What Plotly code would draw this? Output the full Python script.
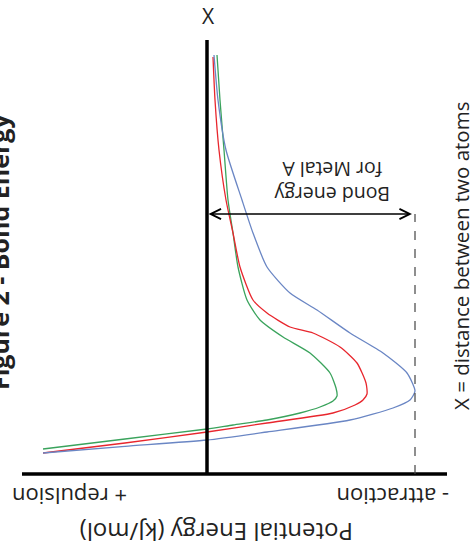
import plotly.graph_objects as go

# potential energy (kJ/mol, negative = attraction) vs distance between atoms
# lower branch (repulsive wall) -> minimum -> tail toward large distance
energia_azul = [82, 41, 0, -30, -71.5, -93, -101.5, -104, -100, -88, -71.5,
                -55, -41.5, -30, -23, -17.5, -9.5, -5.5, -3.5]
dist_azul = [0.525, 0.69, 0.85, 1.05, 1.35, 1.65, 1.85, 2.075, 2.525, 3.025,
             3.525, 4.1, 4.525, 5.175, 6.025, 6.85, 8.1, 9.35, 10.475]

energia_verm = [82, 41, 0, -30, -63, -74, -78, -80, -79.5, -75, -66.5, -53,
                -41.5, -30, -23, -16.5, -13, -9.5, -6, -4, -3]
dist_verm = [0.525, 0.775, 1.05, 1.275, 1.525, 1.725, 1.85, 2.0, 2.275,
             2.775, 3.175, 3.525, 3.675, 4.025, 4.35, 5.175, 6.025, 6.85,
             8.1, 9.35, 10.425]

energia_verde = [82, 41, 0, -13, -30, -46.5, -56.5, -63, -65, -64.5, -61.5,
                 -51.5, -38, -26.5, -20, -15.5, -13, -10.5, -8.5, -6.5, -5]
dist_verde = [0.625, 0.875, 1.125, 1.225, 1.35, 1.525, 1.675, 1.825, 1.95,
              2.15, 2.525, 3.025, 3.425, 3.85, 4.35, 5.175, 6.025, 6.85, 8.1,
              9.35, 10.475]

ENERGIA_LIGACAO = -104  # bond energy for Metal A (blue well depth)
DIST_SETA = 6.5

FONTE = "'Open Sans', sans-serif"
COR_TEXTO = "#222222"

fig = go.Figure()

series = [
    (energia_verde, dist_verde, "#3aa35c"),
    (energia_verm, dist_verm, "#e8262d"),
    (energia_azul, dist_azul, "#6a86c4"),
]
for ens, ds, cor in series:
    fig.add_trace(
        go.Scatter(
            x=ens,
            y=ds,
            mode="lines",
            line=dict(color=cor, width=1.3, shape="spline", smoothing=0.6),
            hoverinfo="skip",
        )
    )

# eixos desenhados a mao
fig.add_shape(type="line", x0=0, x1=0, y0=0, y1=10.85,
              line=dict(color="black", width=3.5))
fig.add_shape(type="line", x0=92.5, x1=-120, y0=0, y1=0,
              line=dict(color="black", width=3.5))
fig.add_shape(type="line", x0=ENERGIA_LIGACAO, x1=ENERGIA_LIGACAO,
              y0=0, y1=DIST_SETA,
              line=dict(color="#444444", width=1.2, dash="dash"))

fig.add_annotation(
    x=ENERGIA_LIGACAO + 1.5, y=DIST_SETA, ax=0, ay=DIST_SETA,
    axref="x", ayref="y", text="", showarrow=True,
    arrowside="end+start", arrowhead=5, startarrowhead=5,
    arrowsize=1.35, startarrowsize=1.35, arrowwidth=1.5, arrowcolor="black",
    standoff=0, startstandoff=0,
)

textos = [
    dict(x=-0.5, y=11.45, text="X", textangle=0, size=21),
    dict(x=-127, y=5.45, text="X = distance between two atoms",
         textangle=-90, size=20.5),
    dict(x=-62.5, y=7.3, text="Bond energy<br>for Metal A",
         textangle=180, size=19.5),
    dict(x=68.5, y=-0.575, text="+ repulsion", textangle=180, size=22),
    dict(x=-93, y=-0.575, text="- attraction", textangle=180, size=22),
    dict(x=-5, y=-1.475, text="Potential Energy (kJ/mol)", textangle=180,
         size=24),
]
for t in textos:
    fig.add_annotation(
        x=t["x"], y=t["y"], text=t["text"], textangle=t["textangle"],
        showarrow=False, xanchor="center", yanchor="middle",
        font=dict(family=FONTE, size=t["size"], color=COR_TEXTO),
    )

# titulo, quase todo cortado na borda esquerda
fig.add_annotation(
    xref="paper", yref="y", x=-0.002, y=5.55,
    text="Figure 2 - Bond Energy", textangle=-90, showarrow=False,
    xanchor="center", yanchor="middle",
    font=dict(family=FONTE, size=25, color=COR_TEXTO, weight="bold"),
)

fig.update_layout(
    width=474,
    height=558,
    margin=dict(l=0, r=0, t=0, b=0),
    paper_bgcolor="white",
    plot_bgcolor="white",
    showlegend=False,
    xaxis=dict(range=[103.5, -133.5], visible=False),
    yaxis=dict(range=[-2.1, 11.85], visible=False),
)

fig.write_html(
    "out.html",
    config={"displayModeBar": False},
    post_script="document.body.style.margin='0';",
)
